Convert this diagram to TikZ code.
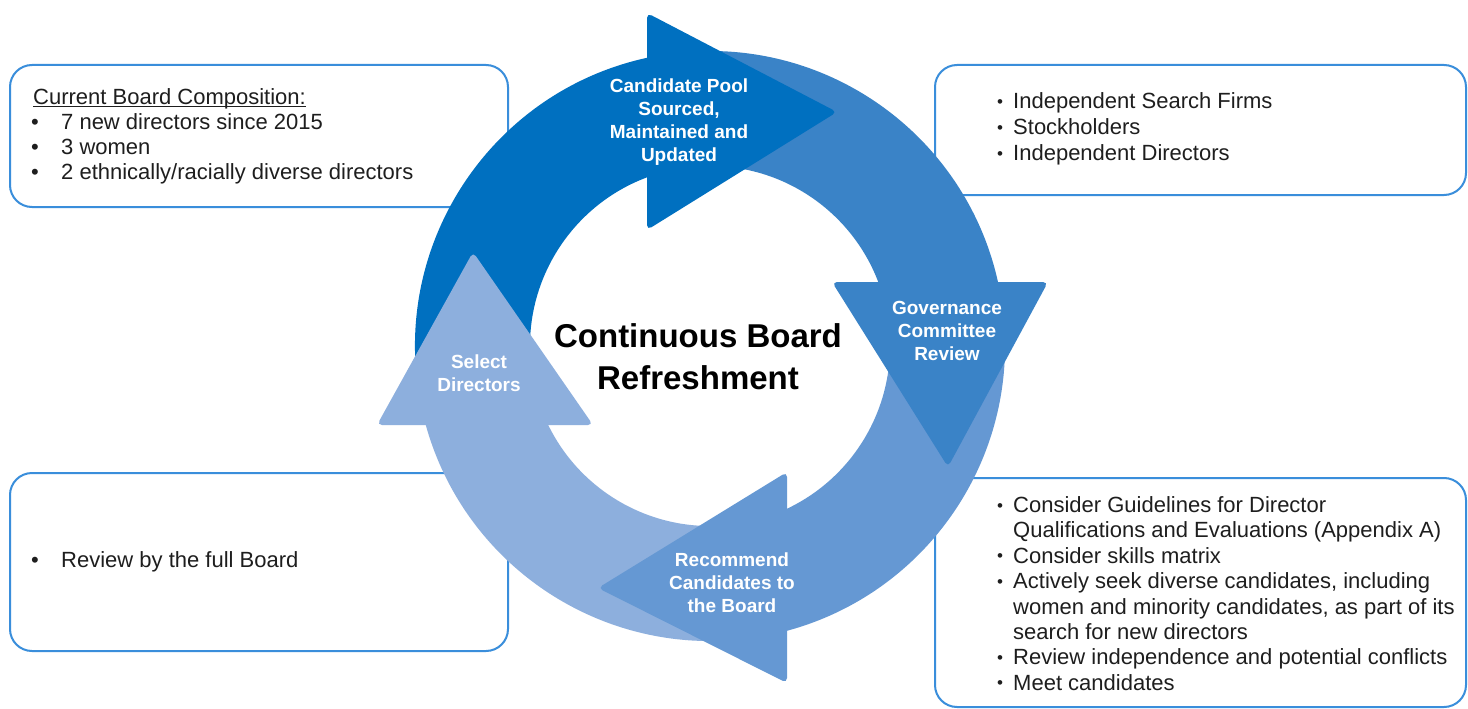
\documentclass[tikz,border=0pt]{standalone}
\usepackage{fontspec}
\setmainfont{Liberation Sans}
\usetikzlibrary{calc}
\definecolor{cDark}{HTML}{0070C0}
\definecolor{cMed}{HTML}{3A83C7}
\definecolor{cLight}{HTML}{6598D3}
\definecolor{cPale}{HTML}{8DAFDD}
\definecolor{cBox}{HTML}{3A8EDB}
\definecolor{cText}{HTML}{1E1E1E}
\newcommand\ringband[3]{%
  \fill[#1] ($(C)+(#2:295)$) arc[start angle=#2, end angle=#3, radius=295pt]
    -- ($(C)+(#3:180)$) arc[start angle=#3, end angle=#2, radius=180pt] -- cycle;}
\begin{document}
\begin{tikzpicture}[x=1pt,y=1pt,
  infobox/.style={draw=cBox, line width=2pt, rounded corners=22pt, fill=white},
  body/.style={font=\fontsize{22}{25}\selectfont, text=cText, inner sep=0pt, anchor=base west},
  bul/.style={font=\fontsize{22}{25}\selectfont, text=cText, inner sep=0pt, anchor=base west},
  sbul/.style={font=\fontsize{17}{20}\selectfont, text=cText, inner sep=0pt, anchor=base west, yshift=1.5pt},
  headlbl/.style={font=\bfseries\fontsize{19}{23}\selectfont, text=white, align=center, inner sep=0pt},
  title/.style={font=\bfseries\fontsize{33}{42}\selectfont, text=black, align=center, inner sep=0pt},
  head/.style={rounded corners=5pt}
]
\useasboundingbox (0,0) rectangle (1468,-709);
\fill[white] (0,0) rectangle (1468,-709);

% ---------- info boxes (behind the ring) ----------
\draw[infobox] (10,-65) rectangle (508,-207);
\draw[infobox] (935,-65) rectangle (1466,-195);
\draw[infobox] (10,-473) rectangle (508,-651);
\draw[infobox] (935,-478) rectangle (1466,-707);

% ---------- ring bands ----------
\coordinate (C) at (710,-346);
\ringband{cDark}{190}{100}
\ringband{cMed}{95}{10}
\ringband{cLight}{5}{-76}
\ringband{cPale}{-80}{-165}

% ---------- arrow heads ----------
\fill[cDark, head] (647,-13) -- (837,-112) -- (647,-230) -- cycle;
\fill[cMed, head] (832,-282) -- (1048,-282) -- (948,-467) -- cycle;
\fill[cLight, head] (787,-472) -- (787,-683) -- (598,-588) -- cycle;
\fill[cPale, head] (473,-252) -- (593,-425) -- (377,-425) -- cycle;

% ---------- labels on the arrows ----------
\node[headlbl] (l1) at (679,-122) {Candidate Pool\\Sourced,\\Maintained and\\Updated};
\node[headlbl] (l2) at (947,-331) {Governance\\Committee\\Review};
\node[headlbl] (l3) at (732,-583) {Recommend\\Candidates to\\the Board};
\node[headlbl] (l4) at (479,-373) {Select\\Directors};

% ---------- centre title ----------
\node[title] (t) at (698,-357) {Continuous Board\\Refreshment};

% ---------- box 1 text ----------
\node[body] (b1h) at (33,-104) {Current Board Composition:};
\draw[cText, line width=1.2pt] ($(b1h.base west)+(0,-2.5)$) -- ($(b1h.base east)+(0,-2.5)$);
\foreach \t [count=\i] in {{7 new directors since 2015},{3 women},{2 ethnically/racially diverse directors}}{
  \node[bul] (b1b\i) at (31,{-104-25*\i}) {•};
  \node[body] (b1t\i) at (61,{-104-25*\i}) {\t};
}

% ---------- box 2 text ----------
\foreach \t [count=\i] in {{Independent Search Firms},{Stockholders},{Independent Directors}}{
  \node[sbul] (b2b\i) at (997,{-108.5-26*(\i-1)}) {•};
  \node[body] (b2t\i) at (1013,{-108.5-26*(\i-1)}) {\t};
}

% ---------- box 3 text ----------
\node[bul] (b3b) at (31,-567.5) {•};
\node[body] (b3t) at (61,-567.5) {Review by the full Board};

% ---------- box 4 text ----------
\foreach \t/\b [count=\i] in {{Consider Guidelines for Director}/1,{Qualifications and Evaluations (Appendix A)}/0,{Consider skills matrix}/1,{Actively seek diverse candidates, including}/1,{women and minority candidates, as part of its}/0,{search for new directors}/0,{Review independence and potential conflicts}/1,{Meet candidates}/1}{
  \node[body] (b4t\i) at (1013,{-512.5-25.4*(\i-1)}) {\t};
  \ifnum\b=1 \node[sbul] (b4b\i) at (997,{-512.5-25.4*(\i-1)}) {•};\fi
}
\end{tikzpicture}
\end{document}
